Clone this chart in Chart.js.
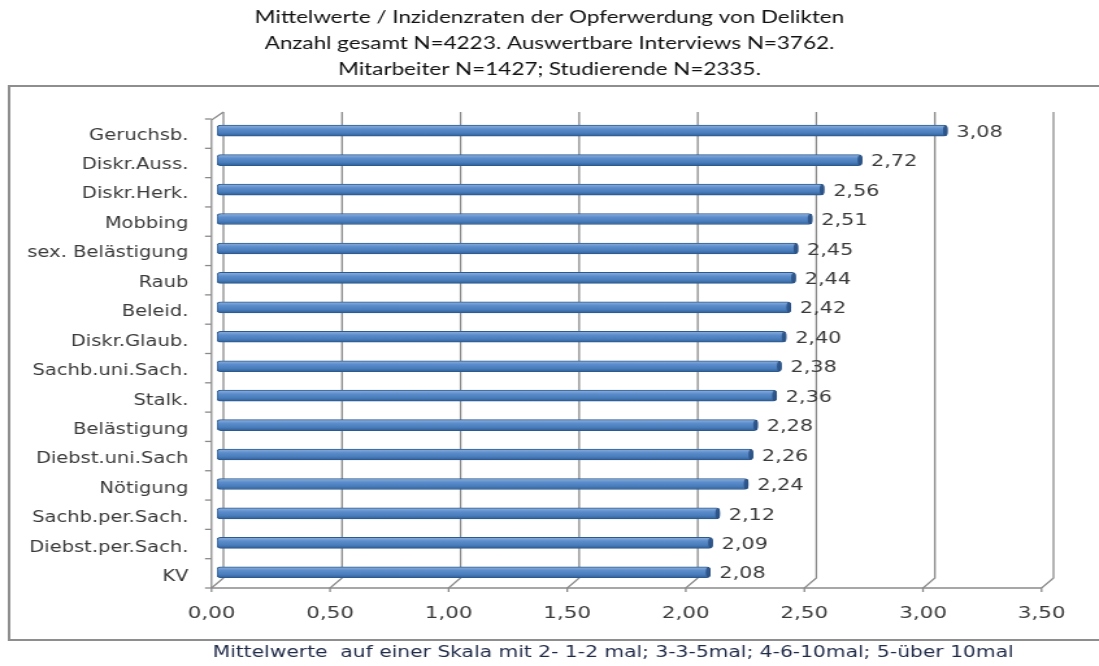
<!DOCTYPE html>
<html>
<head>
<meta charset="utf-8">
<script src="https://cdn.jsdelivr.net/npm/chart.js@4.4.1/dist/chart.umd.min.js"></script>
<style>
  html, body { margin: 0; padding: 0; background: #ffffff; overflow: hidden; }
  #wrap { width: 846px; height: 666px; transform: scaleX(1.299); transform-origin: 0 0; }
</style>
</head>
<body>
<div id="wrap"><canvas id="chart" width="846" height="666"></canvas></div>
<script>
// Kategorien (von oben nach unten) und Mittelwerte
const categories = [
  'Geruchsb.', 'Diskr.Auss.', 'Diskr.Herk.', 'Mobbing', 'sex. Belästigung', 'Raub',
  'Beleid.', 'Diskr.Glaub.', 'Sachb.uni.Sach.', 'Stalk.', 'Belästigung',
  'Diebst.uni.Sach', 'Nötigung', 'Sachb.per.Sach.', 'Diebst.per.Sach.', 'KV'
];
const meanValues = [3.08, 2.72, 2.56, 2.51, 2.45, 2.44, 2.42, 2.40, 2.38, 2.36, 2.28, 2.26, 2.24, 2.12, 2.09, 2.08];
const xTickValues = [0, 0.5, 1, 1.5, 2, 2.5, 3, 3.5];

const titleLines = [
  'Mittelwerte / Inzidenzraten der Opferwerdung von Delikten',
  'Anzahl gesamt N=4223. Auswertbare Interviews N=3762.',
  'Mitarbeiter N=1427; Studierende N=2335.'
];
const footNote = 'Mittelwerte  auf einer Skala mit 2- 1-2 mal; 3-3-5mal; 4-6-10mal; 5-über 10mal';

const fmt = v => v.toFixed(2).replace('.', ',');
const labelFont = '"DejaVu Sans", Verdana, sans-serif';

// Pseudo-3D depth offsets for the back wall / front edge of the plot
const BACK_DX = 5, FRONT_DX = -4.2;
const BACK_BOTTOM = 578, FRONT_BOTTOM = 588, BACK_TOP = 112, FRONT_TOP = 120;

const framePlugin = {
  id: 'frame3d',
  beforeDraw(chart) {
    const ctx = chart.ctx;
    ctx.save();
    // outer chart border
    ctx.strokeStyle = '#8e8e8e';
    ctx.lineWidth = 2;
    ctx.beginPath();
    ctx.moveTo(852, 86); ctx.lineTo(7, 86); ctx.lineTo(7, 640); ctx.lineTo(852, 640);
    ctx.stroke();
    ctx.restore();
  },
  beforeDatasetsDraw(chart) {
    const ctx = chart.ctx;
    const xs = chart.scales.x;
    ctx.save();
    ctx.strokeStyle = '#8a8a8a';
    ctx.lineWidth = 1.3;
    // back wall gridlines with floor diagonals and front tick marks
    xTickValues.forEach(v => {
      const px = xs.getPixelForValue(v);
      ctx.beginPath();
      ctx.moveTo(px + BACK_DX, BACK_TOP);
      ctx.lineTo(px + BACK_DX, BACK_BOTTOM);
      ctx.lineTo(px + FRONT_DX, FRONT_BOTTOM);
      ctx.lineTo(px + FRONT_DX, FRONT_BOTTOM + 4);
      ctx.stroke();
    });
    // front floor edge
    const x0 = xs.getPixelForValue(0) + FRONT_DX;
    const x1 = xs.getPixelForValue(xTickValues[xTickValues.length - 1]) + FRONT_DX;
    ctx.beginPath();
    ctx.moveTo(x0, FRONT_BOTTOM);
    ctx.lineTo(x1, FRONT_BOTTOM);
    ctx.stroke();
    // left wall front edge with top diagonal
    ctx.beginPath();
    ctx.moveTo(xs.getPixelForValue(0) + BACK_DX, BACK_TOP);
    ctx.lineTo(x0, FRONT_TOP);
    ctx.lineTo(x0, FRONT_BOTTOM);
    ctx.stroke();
    // category tick marks on the front edge
    const n = categories.length;
    for (let i = 0; i <= n; i++) {
      const y = FRONT_TOP - 1 + i * (FRONT_BOTTOM - FRONT_TOP + 1) / n;
      ctx.beginPath();
      ctx.moveTo(x0 - 5, y);
      ctx.lineTo(x0, y);
      ctx.stroke();
    }
    ctx.restore();
  },
  afterDatasetsDraw(chart) {
    const ctx = chart.ctx;
    const meta = chart.getDatasetMeta(0);
    ctx.save();
    // darker end caps of the bars
    meta.data.forEach(el => {
      ctx.fillStyle = 'rgba(40, 78, 128, 0.85)';
      ctx.beginPath();
      ctx.ellipse(el.x - 1.6, el.y, 1.8, el.height / 2 - 0.5, 0, 0, Math.PI * 2);
      ctx.fill();
    });
    // value labels
    ctx.fillStyle = '#3a3a3a';
    ctx.font = '16px ' + labelFont;
    ctx.textAlign = 'left';
    ctx.textBaseline = 'middle';
    meta.data.forEach((el, i) => {
      ctx.fillText(fmt(meanValues[i]), el.x + 7, el.y + 2);
    });
    // note below the chart box
    ctx.fillStyle = '#1f2a48';
    ctx.font = '15.6px ' + labelFont;
    ctx.textAlign = 'center';
    ctx.fillText(footNote, 472, 653);
    ctx.restore();
  }
};

const ctx = document.getElementById('chart').getContext('2d');
new Chart(ctx, {
  type: 'bar',
  data: {
    labels: categories,
    datasets: [{
      data: meanValues,
      barThickness: 11,
      borderWidth: 1,
      borderColor: '#2d5a8e',
      borderRadius: 3,
      borderSkipped: false,
      backgroundColor(c) {
        const chart = c.chart;
        if (!chart.chartArea) return '#4f81bd';
        const y = chart.scales.y.getPixelForValue(c.dataIndex);
        const g = chart.ctx.createLinearGradient(0, y - 5.5, 0, y + 5.5);
        g.addColorStop(0, '#8fb1de');
        g.addColorStop(0.35, '#5b8ccb');
        g.addColorStop(0.7, '#4a7dbb');
        g.addColorStop(1, '#2f5f98');
        return g;
      }
    }]
  },
  options: {
    indexAxis: 'y',
    responsive: false,
    animation: false,
    events: [],
    layout: { padding: 0 },
    plugins: {
      legend: { display: false },
      tooltip: { enabled: false },
      title: {
        display: true,
        text: titleLines,
        color: '#111111',
        font: { family: 'Lato, "Liberation Sans Narrow", sans-serif', size: 17.3, weight: 'normal', lineHeight: 1.517 },
        padding: { top: 4, bottom: 33.25 }
      }
    },
    scales: {
      x: {
        type: 'linear',
        min: 0,
        max: 3.5,
        afterBuildTicks(scale) { scale.ticks = xTickValues.map(v => ({ value: v })); },
        afterFit(scale) { scale.height = 79; },
        grid: { display: false, drawTicks: false },
        border: { display: false },
        ticks: {
          padding: 17,
          labelOffset: FRONT_DX,
          color: '#3a3a3a',
          font: { family: labelFont, size: 16.5 },
          callback: v => fmt(v)
        }
      },
      y: {
        afterFit(scale) { scale.width = 167; },
        grid: { display: false, drawTicks: false },
        border: { display: false },
        ticks: {
          padding: 22,
          labelOffset: 5,
          autoSkip: false,
          color: '#3a3a3a',
          font: { family: labelFont, size: 15 }
        }
      },
      // empty right-hand axis that only reserves room for the value labels
      yRight: {
        type: 'category',
        position: 'right',
        afterFit(scale) { scale.width = 40; },
        grid: { display: false, drawTicks: false },
        border: { display: false },
        ticks: { display: false }
      }
    }
  },
  plugins: [framePlugin]
});
</script>
</body>
</html>
